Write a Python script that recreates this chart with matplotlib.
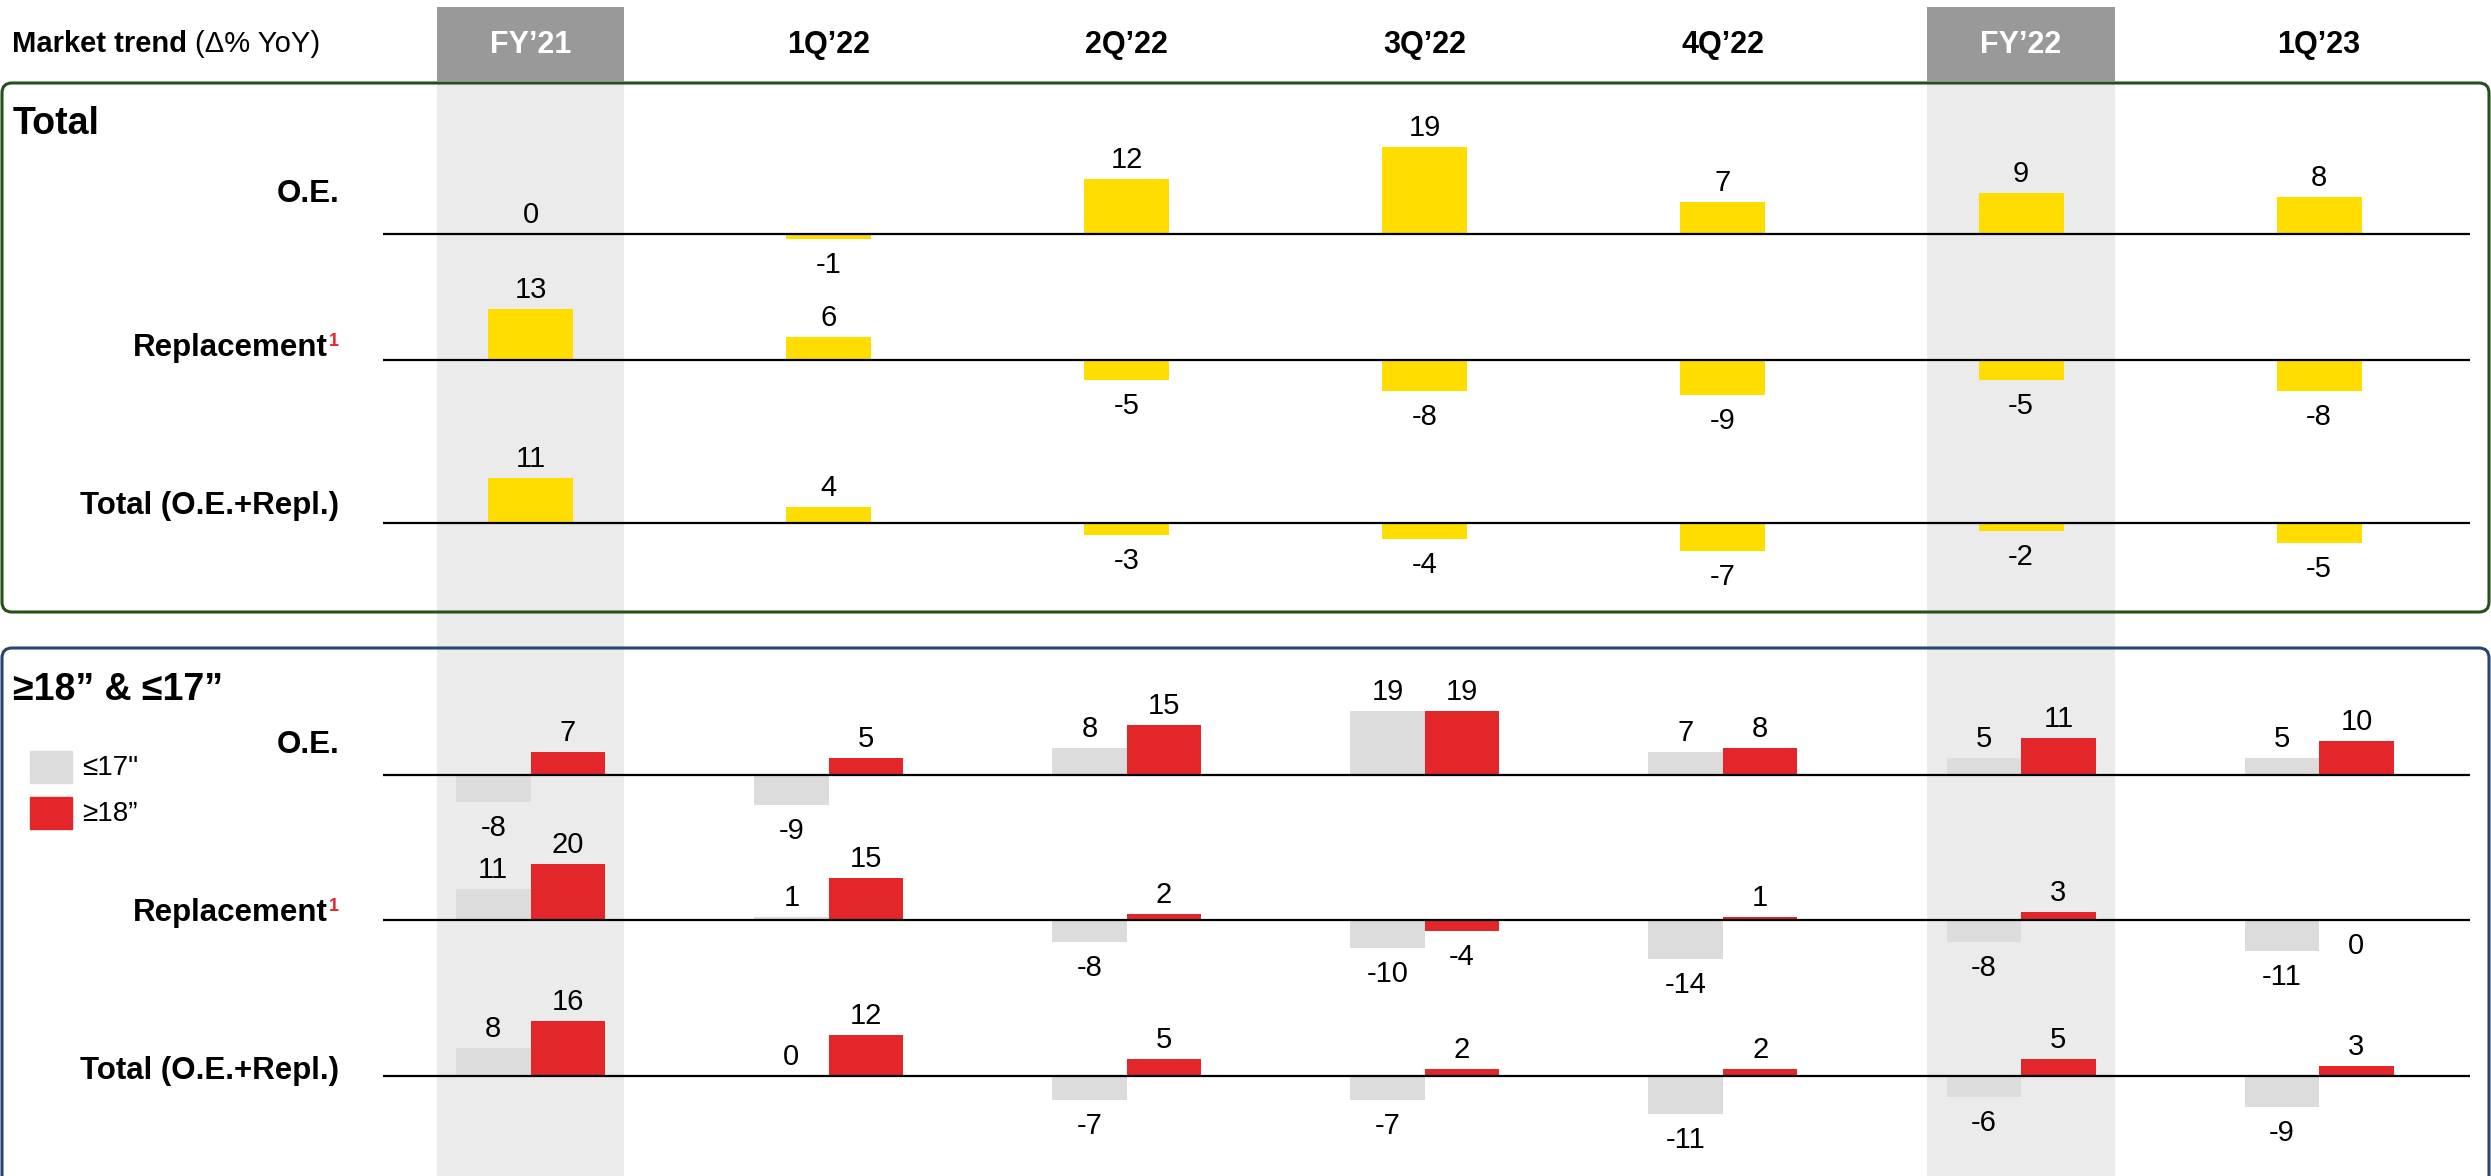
import numpy as np
import matplotlib.pyplot as plt
from matplotlib.patches import FancyBboxPatch, Rectangle

plt.rcParams['font.family'] = ['Liberation Sans', 'DejaVu Sans']

# periods along the top, FY columns get the grey highlight
periods = ["FY’21", "1Q’22", "2Q’22", "3Q’22", "4Q’22", "FY’22", "1Q’23"]
fy_cols = [0, 5]

row_names = ["O.E.", "Replacement", "Total (O.E.+Repl.)"]

# Total market, % YoY
total_oe = [0, -1, 12, 19, 7, 9, 8]
total_repl = [13, 6, -5, -8, -9, -5, -8]
total_all = [11, 4, -3, -4, -7, -2, -5]

# split by rim size (-0.0 = rounded down to zero, label goes below)
small_oe = [-8, -9, 8, 19, 7, 5, 5]
large_oe = [7, 5, 15, 19, 8, 11, 10]
small_repl = [11, 1, -8, -10, -14, -8, -11]
large_repl = [20, 15, 2, -4, 1, 3, -0.0]
small_all = [8, 0, -7, -7, -11, -6, -9]
large_all = [16, 12, 5, 2, 2, 5, 3]

YELLOW = '#FFDD00'
RED = '#E3262A'
LIGHT = '#DCDCDC'

W, H = 2491, 1176
fig = plt.figure(figsize=(W / 100, H / 100), dpi=100)


def px_rect(x0, y0, x1, y1):
    # pixel box (origin top-left) -> figure fraction rect
    return [x0 / W, 1 - y1 / H, (x1 - x0) / W, (y1 - y0) / H]


X0, X1 = 383, 2470
XLIM = (-0.495, 6.506)
x = np.arange(len(periods))

# column layer: FY shading + header row
col_ax = fig.add_axes(px_rect(X0, 0, X1, H), zorder=0)
col_ax.set_xlim(*XLIM)
col_ax.set_ylim(H, 0)
col_ax.axis('off')
for i in fy_cols:
    col_ax.bar(x[i], H - 81, bottom=81, width=0.63, color='#EBEBEB')
    col_ax.bar(x[i], 74, bottom=7, width=0.63, color='#999999')
for i, p in enumerate(periods):
    col_ax.text(x[i], 45, p, ha='center', va='center', fontsize=22,
                weight='bold', color='white' if i in fy_cols else 'black')

# frame layer: section boxes, titles, row labels, legend
frame = fig.add_axes([0, 0, 1, 1], zorder=1)
frame.set_xlim(0, W)
frame.set_ylim(H, 0)
frame.axis('off')
frame.patch.set_alpha(0)

frame.add_patch(FancyBboxPatch((2, 83), W - 4, 529, boxstyle='round,pad=0,rounding_size=10',
                               fc='none', ec='#26501A', lw=2.2))
frame.add_patch(FancyBboxPatch((2, 648), W - 4, 600, boxstyle='round,pad=0,rounding_size=10',
                               fc='none', ec='#27456E', lw=2.2))

t = frame.text(12, 44, "Market trend ", ha='left', va='center', fontsize=21, weight='bold')
frame.annotate("(Δ% YoY)", xy=(1, 0), xycoords=t, ha='left', va='bottom', fontsize=21)

frame.text(13, 124, "Total", ha='left', va='center', fontsize=27, weight='bold')
frame.text(13, 690, "≥18” & ≤17”", ha='left', va='center', fontsize=27, weight='bold')


def row_labels(ys):
    for name, y in zip(row_names, ys):
        if name == "Replacement":
            t = frame.text(328, y, name, ha='right', va='center', fontsize=22.5, weight='bold')
            frame.annotate("1", xy=(1, 1), xycoords=t, xytext=(1, 0), textcoords='offset pixels',
                           ha='left', va='top', fontsize=13, weight='bold', color=RED)
        else:
            frame.text(339, y, name, ha='right', va='center', fontsize=22.5, weight='bold')


row_labels([194, 348, 506])
row_labels([745, 913, 1071])

frame.add_patch(Rectangle((30, 751), 42, 32, color=LIGHT))
frame.add_patch(Rectangle((30, 797), 42, 32, color=RED))
frame.text(82, 768, "≤17\"", ha='left', va='center', fontsize=20)
frame.text(82, 814, "≥18”", ha='left', va='center', fontsize=20)


def row_axis(base_y, scale, up=120, down=90):
    ax = fig.add_axes(px_rect(X0, base_y - up, X1, base_y + down), zorder=2)
    ax.set_xlim(*XLIM)
    ax.set_ylim(-down / scale, up / scale)
    ax.axis('off')
    ax.patch.set_alpha(0)
    ax.axhline(0, color='black', lw=1.6, zorder=3)
    return ax


def value_labels(ax, xs, vals):
    for xi, v in zip(xs, vals):
        if np.signbit(v):
            ax.annotate(f"{int(v)}", (xi, v), xytext=(0, -12), textcoords='offset pixels',
                        ha='center', va='top', fontsize=21)
        else:
            ax.annotate(f"{int(v)}", (xi, v), xytext=(0, 11), textcoords='offset pixels',
                        ha='center', va='baseline', fontsize=21)


# Total section
for vals, base_y, scale in zip([total_oe, total_repl, total_all], [234, 360, 523], [4.6, 3.9, 4.05]):
    ax = row_axis(base_y, scale)
    ax.bar(x, vals, width=0.285, color=YELLOW)
    value_labels(ax, x, vals)

# rim size section
for sm, lg, base_y, scale in zip([small_oe, small_repl, small_all], [large_oe, large_repl, large_all],
                                 [775, 920, 1076], [3.35, 2.8, 3.45]):
    ax = row_axis(base_y, scale)
    ax.bar(x - 0.25, sm, width=0.25, align='edge', color=LIGHT)
    ax.bar(x, lg, width=0.25, align='edge', color=RED)
    value_labels(ax, x - 0.125, sm)
    value_labels(ax, x + 0.125, lg)

fig.savefig('out.png', dpi=100)
